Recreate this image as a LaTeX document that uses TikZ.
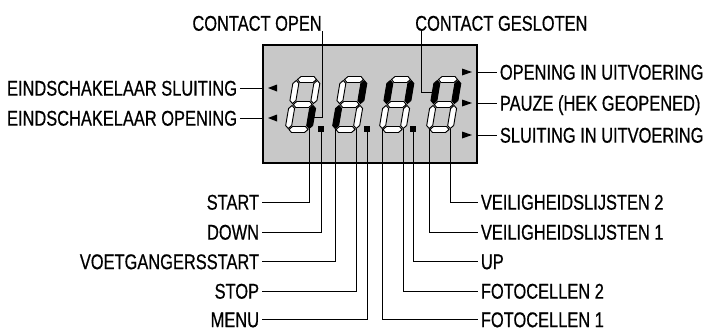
\documentclass[tikz,border=0pt]{standalone}
\usepackage{fontspec}
\setmainfont{Liberation Sans}[FakeStretch=0.77, FakeBold=0.6]
\definecolor{lcdgray}{RGB}{200,200,200}

\tikzset{
  lbl/.style={font=\fontsize{16}{18}\selectfont, inner sep=2pt, text height=11.5pt, text depth=0pt},
  wire/.style={line width=0.6pt},
  segoff/.style={fill=white, draw=black, line width=0.7pt},
  segon/.style={fill=black, draw=black, line width=0.7pt},
  dpoint/.style={fill=black, inner sep=0pt, minimum size=4.5pt},
  lcdbox/.style={draw=black, fill=lcdgray, line width=2pt, minimum width=160.5pt, minimum height=88.5pt}
}

% one segment, horizontal or vertical
\newcommand{\hseg}[3]{\filldraw[#3] (#1,#2) -- ++(3,-3) -- ++(13,0) -- ++(3,3) -- ++(-3,3) -- ++(-13,0) -- cycle;}
\newcommand{\vseg}[3]{\filldraw[#3] (#1,#2) -- ++(3,-3) -- ++(0,-17) -- ++(-3,-3) -- ++(-3,3) -- ++(0,17) -- cycle;}

% seven segment digit: name, origin, segments a..g
\newcommand{\lcddigit}[9]{%
  \begin{scope}[shift={#2}, xslant=0.17]
    \hseg{1}{-50}{#3}
    \vseg{21}{-26}{#4}
    \vseg{21}{-1}{#5}
    \hseg{1}{0}{#6}
    \vseg{0}{-1}{#7}
    \vseg{0}{-26}{#8}
    \hseg{1}{-25}{#9}
    \coordinate (#1c) at (21,-1);
    \coordinate (#1e) at (0,-1);
    \coordinate (#1cm) at (21,-12);
    \coordinate (#1fm) at (0,-37);
  \end{scope}}

\begin{document}
\begin{tikzpicture}[x=0.75pt, y=-0.75pt]
  \useasboundingbox (0,0) rectangle (710,329);

  % display
  \node[lcdbox] (lcd) at (370,104) {};
  \lcddigit{d1}{(288,129.5)}{segoff}{segoff}{segon}{segoff}{segoff}{segoff}{segoff}
  \lcddigit{d2}{(335,129.5)}{segoff}{segon}{segoff}{segoff}{segon}{segoff}{segoff}
  \lcddigit{d3}{(382,129.5)}{segoff}{segon}{segoff}{segoff}{segoff}{segon}{segoff}
  \lcddigit{d4}{(429,129.5)}{segoff}{segon}{segoff}{segoff}{segoff}{segon}{segoff}
  \node[dpoint] (dp1) at (321,128.5) {};
  \node[dpoint] (dp2) at (367,128.5) {};
  \node[dpoint] (dp3) at (413,128.5) {};
  \foreach \y in {88,118} \fill (268,\y) -- (277,\y-3.5) -- (277,\y+3.5) -- cycle;
  \foreach \y in {72,103,135} \fill (472,\y) -- (462,\y-3.5) -- (462,\y+3.5) -- cycle;

  % labels
  \node[lbl, anchor=south east, inner sep=0pt] (copen) at (322,31) {CONTACT OPEN};
  \node[lbl, anchor=south west, inner sep=0pt] (cgesl) at (415,31) {CONTACT GESLOTEN};
  \node[lbl, anchor=east] (esluit) at (240,88) {EINDSCHAKELAAR SLUITING};
  \node[lbl, anchor=east] (eopen) at (240,118) {EINDSCHAKELAAR OPENING};
  \node[lbl, anchor=west] (opuit) at (497,72) {OPENING IN UITVOERING};
  \node[lbl, anchor=west] (pauze) at (497,103) {PAUZE (HEK GEOPENED)};
  \node[lbl, anchor=west] (sluit) at (497,135) {SLUITING IN UITVOERING};
  \node[lbl, anchor=east] (start) at (262,202) {START};
  \node[lbl, anchor=east] (down) at (262,232) {DOWN};
  \node[lbl, anchor=east] (voet) at (262,261.5) {VOETGANGERSSTART};
  \node[lbl, anchor=east] (stop) at (262,291) {STOP};
  \node[lbl, anchor=east] (menu) at (262,319.5) {MENU};
  \node[lbl, anchor=west] (veil2) at (478,202) {VEILIGHEIDSLIJSTEN 2};
  \node[lbl, anchor=west] (veil1) at (478,232) {VEILIGHEIDSLIJSTEN 1};
  \node[lbl, anchor=west] (up) at (478,261.5) {UP};
  \node[lbl, anchor=west] (foto2) at (478,291) {FOTOCELLEN 2};
  \node[lbl, anchor=west] (foto1) at (478,319.5) {FOTOCELLEN 1};

  % connectors
  \draw[wire] (copen.south east) |- (d1cm);
  \draw[wire] ([xshift=4.5pt]cgesl.south west) |- (d4fm);
  \draw[wire] (esluit.east) -- (esluit.east -| lcd.west);
  \draw[wire] (eopen.east) -- (eopen.east -| lcd.west);
  \draw[wire] (opuit.west -| lcd.east) -- (opuit.west);
  \draw[wire] (pauze.west -| lcd.east) -- (pauze.west);
  \draw[wire] (sluit.west -| lcd.east) -- (sluit.west);
  \draw[wire] (d1c) |- (start.east);
  \draw[wire] (dp1) |- (down.east);
  \draw[wire] (d2e) |- (voet.east);
  \draw[wire] (d2c) |- (stop.east);
  \draw[wire] (dp2) |- (menu.east);
  \draw[wire] (d4c) |- (veil2.west);
  \draw[wire] (d4e) |- (veil1.west);
  \draw[wire] (dp3) |- (up.west);
  \draw[wire] (d3c) |- (foto2.west);
  \draw[wire] (d3e) |- (foto1.west);
\end{tikzpicture}
\end{document}
